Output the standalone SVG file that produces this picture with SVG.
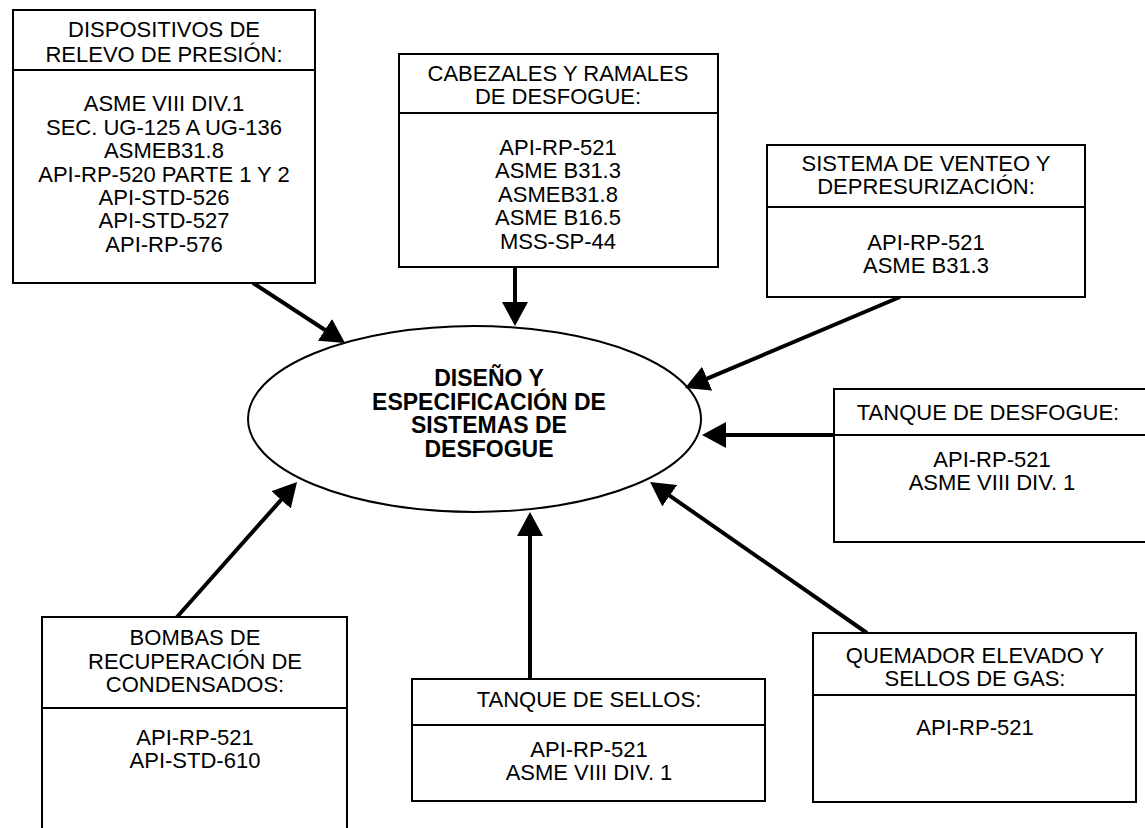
<svg xmlns="http://www.w3.org/2000/svg" width="1145" height="828" viewBox="0 0 1145 828">
<defs>
<style>
.box{fill:#fff;stroke:#000;stroke-width:2}
.div{stroke:#000;stroke-width:2}
.t{font-family:"Liberation Sans",Arial,sans-serif;font-size:22px;fill:#000;text-anchor:middle}
.b{font-family:"Liberation Sans",Arial,sans-serif;font-size:23px;font-weight:bold;fill:#000;text-anchor:middle}
.arr{stroke:#000;stroke-width:4;fill:none;marker-end:url(#ah)}
</style>
<marker id="ah" markerUnits="userSpaceOnUse" markerWidth="24" markerHeight="26" refX="2" refY="13" orient="auto" viewBox="0 0 24 26">
<path d="M0,0 L24,13 L0,26 z" fill="#000"/>
</marker>
</defs>
<rect width="1145" height="828" fill="#fff"/>

<g id="connectors">
<line class="arr" x1="253" y1="283" x2="326.6" y2="331"/>
<line class="arr" x1="515" y1="268" x2="515" y2="304"/>
<line class="arr" x1="900" y1="297" x2="705.3" y2="379.4"/>
<line class="arr" x1="836" y1="435" x2="724" y2="435"/>
<line class="arr" x1="867" y1="633" x2="668.1" y2="494.6"/>
<line class="arr" x1="530" y1="679" x2="530" y2="534"/>
<line class="arr" x1="177" y1="617" x2="282.4" y2="498.4"/>
</g>

<g id="center">
<ellipse cx="474.5" cy="419" rx="226.5" ry="93" fill="none" stroke="#000" stroke-width="2"/>
<text class="b" x="489" y="386">DISEÑO Y</text>
<text class="b" x="489" y="409.5">ESPECIFICACIÓN DE</text>
<text class="b" x="489" y="433">SISTEMAS DE</text>
<text class="b" x="489" y="456.5">DESFOGUE</text>
</g>

<g id="dispositivos">
<rect class="box" x="13" y="10" width="302" height="273"/>
<line class="div" x1="13" y1="70" x2="315" y2="70"/>
<text class="t" x="164" y="37">DISPOSITIVOS DE</text>
<text class="t" x="164" y="62">RELEVO DE PRESIÓN:</text>
<text class="t" x="164" y="111">ASME VIII DIV.1</text>
<text class="t" x="164" y="135">SEC. UG-125 A UG-136</text>
<text class="t" x="164" y="158">ASMEB31.8</text>
<text class="t" x="164" y="182">API-RP-520 PARTE 1 Y 2</text>
<text class="t" x="164" y="205">API-STD-526</text>
<text class="t" x="164" y="228">API-STD-527</text>
<text class="t" x="164" y="252">API-RP-576</text>
</g>

<g id="cabezales">
<rect class="box" x="399" y="54" width="319" height="213"/>
<line class="div" x1="399" y1="113" x2="718" y2="113"/>
<text class="t" x="558" y="81">CABEZALES Y RAMALES</text>
<text class="t" x="558" y="104">DE DESFOGUE:</text>
<text class="t" x="558" y="155">API-RP-521</text>
<text class="t" x="558" y="178">ASME B31.3</text>
<text class="t" x="558" y="202">ASMEB31.8</text>
<text class="t" x="558" y="225">ASME B16.5</text>
<text class="t" x="558" y="249">MSS-SP-44</text>
</g>

<g id="venteo">
<rect class="box" x="767" y="145" width="318" height="152"/>
<line class="div" x1="767" y1="207" x2="1085" y2="207"/>
<text class="t" x="926" y="171">SISTEMA DE VENTEO Y</text>
<text class="t" x="926" y="194">DEPRESURIZACIÓN:</text>
<text class="t" x="926" y="250">API-RP-521</text>
<text class="t" x="926" y="273">ASME B31.3</text>
</g>

<g id="tanque-desfogue">
<rect class="box" x="834" y="389" width="320" height="153"/>
<line class="div" x1="834" y1="435" x2="1154" y2="435"/>
<text class="t" x="988" y="420">TANQUE DE DESFOGUE:</text>
<text class="t" x="992" y="467">API-RP-521</text>
<text class="t" x="992" y="490">ASME VIII DIV. 1</text>
</g>

<g id="quemador">
<rect class="box" x="813" y="633" width="323" height="169"/>
<line class="div" x1="813" y1="695" x2="1136" y2="695"/>
<text class="t" x="975" y="663">QUEMADOR ELEVADO Y</text>
<text class="t" x="975" y="686">SELLOS DE GAS:</text>
<text class="t" x="975" y="735">API-RP-521</text>
</g>

<g id="tanque-sellos">
<rect class="box" x="412" y="679" width="353" height="122"/>
<line class="div" x1="412" y1="725" x2="765" y2="725"/>
<text class="t" x="589" y="707">TANQUE DE SELLOS:</text>
<text class="t" x="589" y="757">API-RP-521</text>
<text class="t" x="589" y="780">ASME VIII DIV. 1</text>
</g>

<g id="bombas">
<rect class="box" x="42" y="617" width="305" height="230"/>
<line class="div" x1="42" y1="708" x2="347" y2="708"/>
<text class="t" x="195" y="645">BOMBAS DE</text>
<text class="t" x="195" y="669">RECUPERACIÓN DE</text>
<text class="t" x="195" y="692">CONDENSADOS:</text>
<text class="t" x="195" y="745">API-RP-521</text>
<text class="t" x="195" y="768">API-STD-610</text>
</g>
</svg>
